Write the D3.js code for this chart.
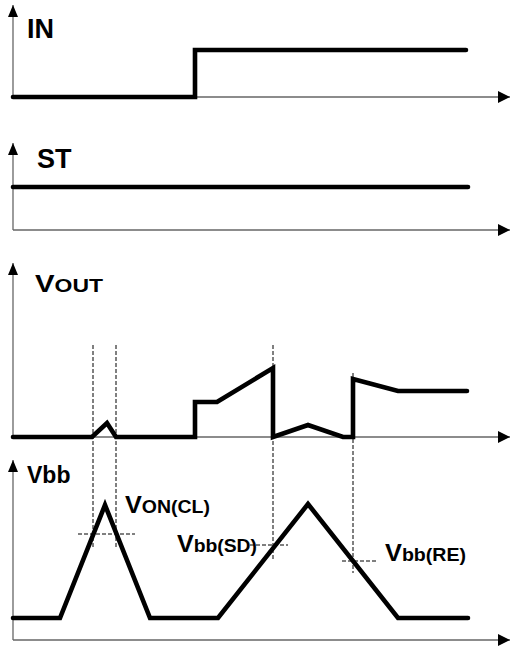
<!DOCTYPE html>
<html lang="en">
<head>
<meta charset="UTF-8">
<title>Timing diagram</title>
<script src="https://d3js.org/d3.v7.min.js"></script>
<style>
    body { margin: 0; background: #fff; }
    .axis_line { stroke: #666; stroke-width: 1.3px; fill: none; }
    .signal { fill: none; stroke: #000; stroke-width: 4.6px; stroke-linecap: round; stroke-linejoin: miter; }
    .guide { stroke: #000; stroke-width: 1px; stroke-dasharray: 4,2; fill: none; }
    .lbl { font-family: "Liberation Sans", Arial, sans-serif; font-weight: bold; fill: #000; }
</style>
</head>
<body>
<div id="chart"></div>
<script>
    // panel baselines and heights (axis arrow tip above the baseline)
    var panelNames = ["IN", "ST", "VOUT", "Vbb"];
    var panelBase = [97, 230, 437, 640];
    var panelHeight = [92, 87, 174, 180];

    // signals: time and level (time and level units above each panel's baseline)
    var tIN = [0, 182, 182, 453];
    var vIN = [0, 0, 47, 47];

    var tST = [0, 455];
    var vST = [43, 43];

    var tVOUT = [0, 79, 94, 103, 182, 182, 204, 260, 260, 295, 330, 340, 340, 385, 454];
    var vVOUT = [0, 0, 14, 0, 0, 35, 35, 69, 0, 12, 0, 0, 58, 46, 46];

    var tVBB = [0, 47, 92, 137, 205, 295, 385, 455];
    var vVBB = [22, 22, 135, 22, 22, 136, 22, 22];

    // dashed verticals: from VOUT level down to Vbb level
    var markT = [80, 103, 260, 340];
    var markTop = [92, 92, 92, 64];
    var markBottom = [93, 93, 80, 67];

    // dashed horizontals on Vbb with their labels
    var thrLevel = [106, 95, 79];
    var thrStart = [65, 237, 329];
    var thrEnd = [122, 275, 363];
    var thrMain = ["V", "V", "V"];
    var thrSub = ["ON(CL)", "bb(SD)", "bb(RE)"];

    var width = 511, height = 649;
    var x = d3.scaleLinear().domain([0, 497]).range([13, 510]);
    var ys = panelBase.map(function(b, i) {
        return d3.scaleLinear().domain([0, panelHeight[i]]).range([b, b - panelHeight[i]]);
    });

    var svg = d3.select("#chart").append("svg")
        .attr("width", width)
        .attr("height", height);

    // arrow heads
    var defs = svg.append("defs");
    defs.append("marker")
        .attr("id", "arr")
        .attr("viewBox", "0 0 12 12")
        .attr("refX", 12).attr("refY", 6)
        .attr("markerWidth", 12).attr("markerHeight", 12)
        .attr("markerUnits", "userSpaceOnUse")
        .attr("orient", "auto")
        .append("path")
        .attr("d", "M0,0 L12,6 L0,12 Z")
        .attr("fill", "#000");
    defs.append("marker")
        .attr("id", "arrSmall")
        .attr("viewBox", "0 0 12 10")
        .attr("refX", 12).attr("refY", 5)
        .attr("markerWidth", 12).attr("markerHeight", 10)
        .attr("markerUnits", "userSpaceOnUse")
        .attr("orient", "auto")
        .append("path")
        .attr("d", "M0,0 L12,5 L0,10 Z")
        .attr("fill", "#000");

    // axes
    panelBase.forEach(function(b, i) {
        var y = ys[i];
        svg.append("line").attr("class", "axis_line")
            .attr("x1", x(0)).attr("y1", y(0))
            .attr("x2", x(0)).attr("y2", y(panelHeight[i]))
            .attr("marker-end", "url(#arrSmall)");
        svg.append("line").attr("class", "axis_line")
            .attr("x1", x(0)).attr("y1", y(0))
            .attr("x2", x(497)).attr("y2", y(0))
            .attr("marker-end", "url(#arr)");
    });

    // dashed guides
    markT.forEach(function(t, i) {
        svg.append("line").attr("class", "guide")
            .attr("x1", x(t)).attr("y1", ys[2](markTop[i]))
            .attr("x2", x(t)).attr("y2", ys[3](markBottom[i]));
    });
    thrLevel.forEach(function(v, i) {
        svg.append("line").attr("class", "guide")
            .attr("x1", x(thrStart[i])).attr("y1", ys[3](v))
            .attr("x2", x(thrEnd[i])).attr("y2", ys[3](v));
    });

    // signals
    var signals = [[tIN, vIN], [tST, vST], [tVOUT, vVOUT], [tVBB, vVBB]];
    signals.forEach(function(s, i) {
        var pts = s[0].map(function(t, j) { return [t, s[1][j]]; });
        var line = d3.line()
            .x(function(d) { return x(d[0]); })
            .y(function(d) { return ys[i](d[1]); });
        svg.append("path").datum(pts).attr("class", "signal").attr("d", line);
    });

    // panel labels
    var lblX = [27, 37, 35, 27];
    var lblY = [38, 168, 292, 483];
    svg.append("text").attr("class", "lbl").attr("x", lblX[0]).attr("y", lblY[0])
        .style("font-size", "27px").text(panelNames[0]);
    svg.append("text").attr("class", "lbl").attr("x", lblX[1]).attr("y", lblY[1])
        .style("font-size", "27px").text(panelNames[1]);
    var vo = svg.append("text").attr("class", "lbl").attr("x", lblX[2]).attr("y", lblY[2])
        .attr("textLength", 68).attr("lengthAdjust", "spacingAndGlyphs");
    vo.append("tspan").style("font-size", "23px").text("V");
    vo.append("tspan").style("font-size", "18px").text("OUT");
    svg.append("text").attr("class", "lbl").attr("x", lblX[3]).attr("y", lblY[3])
        .style("font-size", "23px").text(panelNames[3]);

    // threshold labels
    var thrX = [125, 177, 385];
    var thrY = [513, 552, 561];
    var thrW = [85, 80, 81];
    thrMain.forEach(function(m, i) {
        var t = svg.append("text").attr("class", "lbl").attr("x", thrX[i]).attr("y", thrY[i])
            .attr("textLength", thrW[i]).attr("lengthAdjust", "spacingAndGlyphs");
        t.append("tspan").style("font-size", "24px").text(m);
        t.append("tspan").style("font-size", "18.5px").text(thrSub[i]);
    });
</script>
</body>
</html>
